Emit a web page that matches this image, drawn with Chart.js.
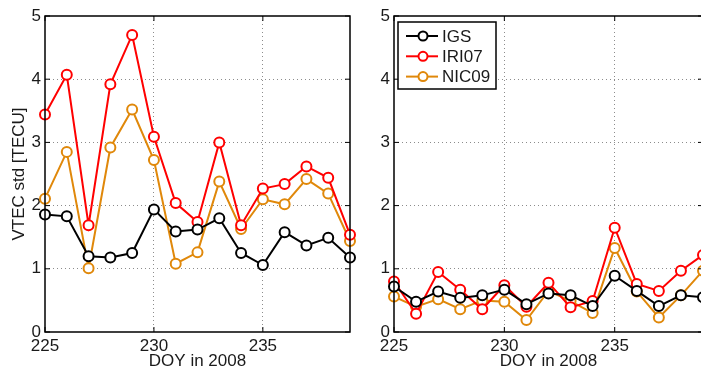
<!DOCTYPE html>
<html>
<head>
<meta charset="utf-8">
<script src="https://cdn.jsdelivr.net/npm/chart.js@4"></script>
<style>
  html, body { margin: 0; padding: 0; background: #fff; overflow: hidden; }
  body { width: 701px; height: 372px; position: relative; }
  .panel { position: absolute; top: 0; height: 372px; }
  #left { left: 0; width: 360px; }
  #right { left: 350px; width: 360px; }
</style>
</head>
<body>
<div class="panel" id="left"><canvas id="chartLeft" width="360" height="372"></canvas></div>
<div class="panel" id="right"><canvas id="chartRight" width="360" height="372"></canvas></div>
<script>
const DAYS = [225, 226, 227, 228, 229, 230, 231, 232, 233, 234, 235, 236, 237, 238, 239];
const X_TICKS = [225, 230, 235];
const Y_TICKS = [0, 1, 2, 3, 4, 5];

// left panel
const IGS_L = [1.86, 1.83, 1.20, 1.18, 1.25, 1.94, 1.59, 1.62, 1.80, 1.25, 1.06, 1.58, 1.37, 1.49, 1.18];
const IRI_L = [3.44, 4.07, 1.69, 3.92, 4.70, 3.09, 2.04, 1.74, 3.00, 1.69, 2.27, 2.34, 2.62, 2.44, 1.54];
const NIC_L = [2.11, 2.85, 1.01, 2.92, 3.52, 2.72, 1.08, 1.26, 2.38, 1.63, 2.10, 2.02, 2.42, 2.19, 1.44];

// right panel
const IGS_R = [0.72, 0.48, 0.64, 0.54, 0.58, 0.67, 0.44, 0.61, 0.58, 0.41, 0.89, 0.65, 0.41, 0.58, 0.55];
const IRI_R = [0.80, 0.29, 0.95, 0.67, 0.36, 0.74, 0.40, 0.78, 0.39, 0.49, 1.65, 0.76, 0.65, 0.97, 1.22];
const NIC_R = [0.56, 0.40, 0.52, 0.36, 0.50, 0.48, 0.19, 0.65, 0.49, 0.30, 1.33, 0.64, 0.23, 0.58, 0.97];

const SERIES = ['IGS', 'IRI07', 'NIC09'];
const COLORS = ['#000000', '#ff0000', '#e0880a'];

const FONT = '"Liberation Sans", Arial, Helvetica, sans-serif';
const TEXT = '#1a1a1a';

Chart.defaults.font.family = FONT;
Chart.defaults.font.size = 17;
Chart.defaults.color = TEXT;

const makeDataset = (label, values, color) => ({
  label,
  data: DAYS.map((d, i) => ({ x: d, y: values[i] })),
  borderColor: color,
  backgroundColor: '#ffffff',
  borderWidth: 2,
  pointRadius: 5,
  pointBorderWidth: 2,
  pointBackgroundColor: '#ffffff',
  pointBorderColor: color,
  tension: 0,
  clip: false,
});

// axis box + inward ticks like matlab
const frame = {
  id: 'frame',
  afterDraw(chart) {
    const { ctx, chartArea: a, scales } = chart;
    ctx.save();
    ctx.strokeStyle = '#000';
    ctx.lineWidth = 1.5;
    ctx.beginPath();
    ctx.moveTo(a.left, a.top);
    ctx.lineTo(a.right, a.top);
    ctx.lineTo(a.right, a.bottom);
    ctx.lineTo(a.left, a.bottom);
    ctx.closePath();
    ctx.stroke();
    ctx.lineWidth = 1;
    ctx.beginPath();
    X_TICKS.forEach((v) => {
      const px = scales.x.getPixelForValue(v);
      ctx.moveTo(px, a.bottom); ctx.lineTo(px, a.bottom - 5);
      ctx.moveTo(px, a.top); ctx.lineTo(px, a.top + 5);
    });
    Y_TICKS.forEach((v) => {
      const py = scales.y.getPixelForValue(v);
      ctx.moveTo(a.left, py); ctx.lineTo(a.left + 5, py);
      ctx.moveTo(a.right, py); ctx.lineTo(a.right - 5, py);
    });
    ctx.stroke();
    ctx.restore();
  },
};

const legendBox = {
  id: 'legendBox',
  afterDraw(chart) {
    const { ctx, chartArea: a } = chart;
    const x0 = a.left + 4, y0 = a.top + 6, w = 98, h = 67;
    ctx.save();
    ctx.fillStyle = '#fff';
    ctx.fillRect(x0, y0, w, h);
    ctx.strokeStyle = '#000';
    ctx.lineWidth = 1.5;
    ctx.strokeRect(x0, y0, w, h);
    chart.data.datasets.forEach((ds, i) => {
      const cy = y0 + 14 + i * 20.3;
      ctx.strokeStyle = ds.borderColor;
      ctx.lineWidth = 2;
      ctx.beginPath();
      ctx.moveTo(x0 + 8, cy);
      ctx.lineTo(x0 + 40, cy);
      ctx.stroke();
      ctx.beginPath();
      ctx.arc(x0 + 25, cy, 4.5, 0, Math.PI * 2);
      ctx.fillStyle = '#fff';
      ctx.fill();
      ctx.stroke();
      ctx.fillStyle = TEXT;
      ctx.font = '17px ' + FONT;
      ctx.textBaseline = 'middle';
      ctx.textAlign = 'left';
      ctx.fillText(ds.label, x0 + 44, cy + 1);
    });
    ctx.restore();
  },
};

function gridColor(ctx, edges) {
  return edges.includes(ctx.tick.value) ? 'rgba(0,0,0,0)' : '#8c8c8c';
}

function makeOptions(yWidth, showTitle, rightPad) {
  return {
    responsive: false,
    animation: false,
    layout: { padding: { top: 16, right: rightPad, left: 0, bottom: 0 } },
    plugins: { legend: { display: false }, tooltip: { enabled: false } },
    scales: {
      x: {
        type: 'linear',
        min: 225,
        max: 239,
        afterBuildTicks: (s) => { s.ticks = X_TICKS.map((v) => ({ value: v })); },
        afterFit: (s) => { s.height = 40; },
        ticks: { padding: 4, color: TEXT, font: { size: 17 } },
        grid: { drawTicks: false, lineWidth: 1, color: (c) => gridColor(c, [225, 239]) },
        border: { display: false, dash: [1, 3] },
        title: { display: true, text: 'DOY in 2008', color: TEXT, font: { size: 17 }, padding: { top: -2, bottom: 0 } },
      },
      y: {
        min: 0,
        max: 5,
        afterBuildTicks: (s) => { s.ticks = Y_TICKS.map((v) => ({ value: v })); },
        afterFit: (s) => { s.width = yWidth; },
        ticks: { padding: 4, color: TEXT, font: { size: 17 } },
        grid: { drawTicks: false, lineWidth: 1, color: (c) => gridColor(c, [0, 5]) },
        border: { display: false, dash: [1, 3] },
        title: { display: showTitle, text: 'VTEC std [TECU]', color: TEXT, font: { size: 17 }, padding: { top: 9, bottom: 0 } },
      },
    },
  };
}

new Chart(document.getElementById('chartLeft'), {
  type: 'line',
  data: {
    datasets: [
      makeDataset(SERIES[0], IGS_L, COLORS[0]),
      makeDataset(SERIES[1], IRI_L, COLORS[1]),
      makeDataset(SERIES[2], NIC_L, COLORS[2]),
    ],
  },
  options: makeOptions(45, true, 10),
  plugins: [frame],
});

new Chart(document.getElementById('chartRight'), {
  type: 'line',
  data: {
    datasets: [
      makeDataset(SERIES[0], IGS_R, COLORS[0]),
      makeDataset(SERIES[1], IRI_R, COLORS[1]),
      makeDataset(SERIES[2], NIC_R, COLORS[2]),
    ],
  },
  options: makeOptions(44, false, 5),
  plugins: [frame, legendBox],
});
</script>
</body>
</html>
